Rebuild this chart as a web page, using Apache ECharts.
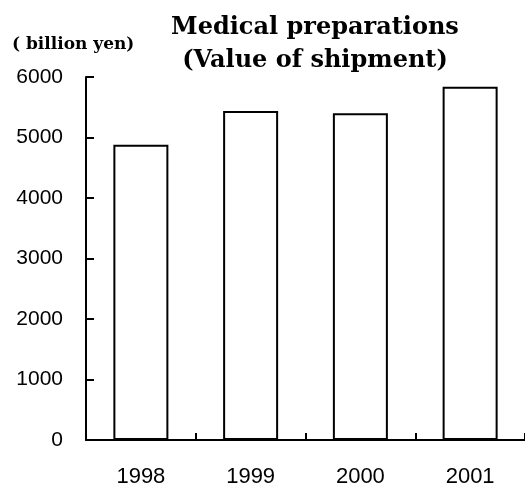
<!DOCTYPE html>
<html>
<head>
<meta charset="utf-8">
<script src="https://cdn.jsdelivr.net/npm/echarts@6/dist/echarts.min.js"></script>
<style>html,body{margin:0;padding:0;background:#fff}#c{width:525px;height:488px}</style>
</head>
<body>
<div id="c"></div>
<script>
const categories = ['1998', '1999', '2000', '2001'];
const shipmentValues = [4880, 5440, 5400, 5840];
const yTicks = [0, 1000, 2000, 3000, 4000, 5000, 6000];

const chart = echarts.init(document.getElementById('c'), null, {renderer: 'canvas'});
chart.setOption({
  animation: false,
  backgroundColor: '#fff',
  title: [
    {
      text: 'Medical preparations\n(Value of shipment)',
      left: 310, top: 6, textAlign: 'center',
      textStyle: {fontFamily: 'DejaVu Serif', fontWeight: 'bold', fontSize: 24, color: '#000', lineHeight: 33}
    },
    {
      text: '( billion yen)',
      left: 7, top: 31,
      textStyle: {fontFamily: 'DejaVu Serif', fontWeight: 'bold', fontSize: 17, color: '#000'}
    }
  ],
  grid: {left: 86, top: 77, width: 442, height: 366, containLabel: false},
  xAxis: {
    type: 'category',
    data: categories,
    axisLine: {lineStyle: {color: '#000', width: 2}},
    axisTick: {show: true, inside: true, length: 7, lineStyle: {color: '#000', width: 2}},
    axisLabel: {color: '#000', fontFamily: 'Liberation Sans', fontSize: 22, margin: 26}
  },
  yAxis: {
    type: 'value',
    min: yTicks[0], max: yTicks[yTicks.length - 1], interval: 1000,
    splitLine: {show: false},
    axisLine: {show: true, lineStyle: {color: '#000', width: 2}},
    axisTick: {show: true, inside: true, length: 8, lineStyle: {color: '#000', width: 2}},
    axisLabel: {color: '#000', fontFamily: 'Liberation Sans', fontSize: 21, margin: 23,
      formatter: function (v) { return String(v); }}
  },
  series: [{
    type: 'bar',
    data: shipmentValues,
    barWidth: 55,
    itemStyle: {color: '#fff', borderColor: '#000', borderWidth: 2}
  }]
});
</script>
</body>
</html>
